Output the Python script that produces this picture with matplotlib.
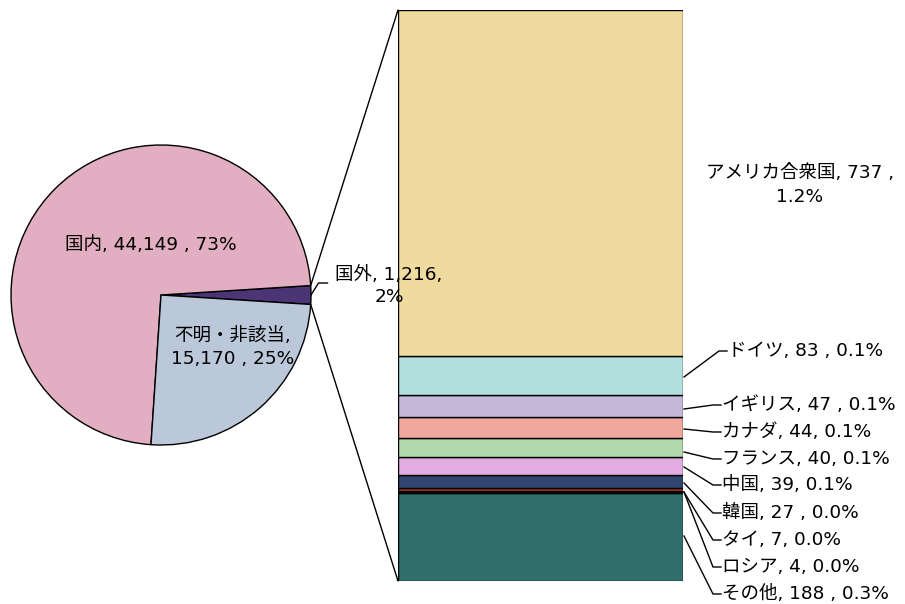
import matplotlib
matplotlib.use("Agg")
import matplotlib.pyplot as plt
from matplotlib.patches import ConnectionPatch
from matplotlib.lines import Line2D
import numpy as np

plt.rcParams['font.family'] = ['DejaVu Sans', 'Noto Sans CJK JP']

# Pie data
pie_labels = ["国外", "国内", "不明・非該当"]
pie_values = [1216, 44149, 15170]
pie_pcts = ["2%", "73%", "25%"]
pie_colors = ["#4B3575", "#E2AEC1", "#BAC8DA"]

# Bar (breakdown of 国外), bottom to top
bar_labels = ["その他", "ロシア", "タイ", "韓国", "中国", "フランス", "カナダ", "イギリス", "ドイツ", "アメリカ合衆国"]
bar_values = [188, 4, 7, 27, 39, 40, 44, 47, 83, 737]
bar_pcts = ["0.3%", "0.0%", "0.0%", "0.0%", "0.1%", "0.1%", "0.1%", "0.1%", "0.1%", "1.2%"]
bar_colors = ["#2F6E6A", "#111111", "#C0392B", "#2F4670", "#E2AEE2", "#B3D8AC",
              "#EFA89B", "#C5B9DA", "#B3E0DF", "#F0DB9E"]
bar_label_text = ["その他, 188 , 0.3%", "ロシア, 4, 0.0%", "タイ, 7, 0.0%", "韓国, 27 , 0.0%",
                  "中国, 39, 0.1%", "フランス, 40, 0.1%", "カナダ, 44, 0.1%",
                  "イギリス, 47 , 0.1%", "ドイツ, 83 , 0.1%", "アメリカ合衆国, 737 ,\n1.2%"]

W, H = 905, 604
fig = plt.figure(figsize=(W / 100, H / 100), dpi=100)

def rect(x0, y0, x1, y1):
    return [x0 / W, (H - y1) / H, (x1 - x0) / W, (y1 - y0) / H]

FS = 13.3

# Pie
axp = fig.add_axes(rect(11, 145, 311, 445))
axp.set_zorder(5)
tot = sum(pie_values)
start = -360 * pie_values[0] / tot / 2
wedges, _ = axp.pie(pie_values, colors=pie_colors, startangle=start, counterclock=True,
                    radius=1, wedgeprops=dict(edgecolor="black", linewidth=1))
axp.set_xlim(-1, 1)
axp.set_ylim(-1, 1)
axp.set_aspect("equal")
axp.axis("off")

axp.text(-0.07, 0.335, f"{pie_labels[1]}, {pie_values[1]:,} , {pie_pcts[1]}",
         ha="center", va="center", fontsize=FS)
axp.text(0.48, -0.35, f"{pie_labels[2]},\n{pie_values[2]:,} , {pie_pcts[2]}",
         ha="center", va="center", fontsize=FS, linespacing=1.35)
axp.text(1.52, 0.06, f"{pie_labels[0]}, {pie_values[0]:,},\n{pie_pcts[0]}",
         ha="center", va="center", fontsize=FS, linespacing=1.35, clip_on=False)
# leader for 国外
axp.plot([1.0, 1.05, 1.11], [0.0, 0.08, 0.08], color="black", lw=1, clip_on=False)

# Bar
axb = fig.add_axes(rect(398, 10, 683, 581))
bottom = 0
mids = []
for v, c in zip(bar_values, bar_colors):
    axb.bar(0, v, bottom=bottom, width=1, color=c, edgecolor="black", linewidth=1)
    mids.append(bottom + v / 2)
    bottom += v
axb.set_xlim(-0.5, 0.5)
axb.set_ylim(0, sum(bar_values))
axb.axis("off")

# connection lines
w0 = wedges[0]
for ang, yb in [(w0.theta2, sum(bar_values)), (w0.theta1, 0)]:
    a = np.deg2rad(ang)
    con = ConnectionPatch(xyA=(np.cos(a), np.sin(a)), coordsA=axp.transData,
                          xyB=(-0.5, yb), coordsB=axb.transData, color="black", lw=1)
    fig.add_artist(con)

# bar labels: text position (figure pixel, from top) and leader anchor y
label_pos = {
    "その他": (722, 594, 536),
    "ロシア": (722, 567, 492),
    "タイ": (722, 540, 492),
    "韓国": (722, 513, 483),
    "中国": (722, 485, 467),
    "フランス": (722, 459, 452),
    "カナダ": (722, 432, 429),
    "イギリス": (722, 405, 409),
    "ドイツ": (728, 351, 377),
}
for lab, txt, mid in zip(bar_labels, bar_label_text, mids):
    if lab == "アメリカ合衆国":
        fig.text(800 / W, (H - 185) / H, txt, ha="center", va="center", fontsize=FS, linespacing=1.4)
        continue
    tx, ty, ay = label_pos[lab]
    x_edge, _ = axb.transData.transform((0.5, mid))
    sx = x_edge + 1
    sy = H - ay
    ex = tx - 9
    line = Line2D([sx / W, ex / W, (tx - 1) / W], [sy / H, (H - ty) / H, (H - ty) / H],
                  transform=fig.transFigure, color="black", lw=1)
    fig.add_artist(line)
    fig.text(tx / W, (H - ty) / H, txt, ha="left", va="center", fontsize=FS)

fig.savefig("out.png", dpi=100)
